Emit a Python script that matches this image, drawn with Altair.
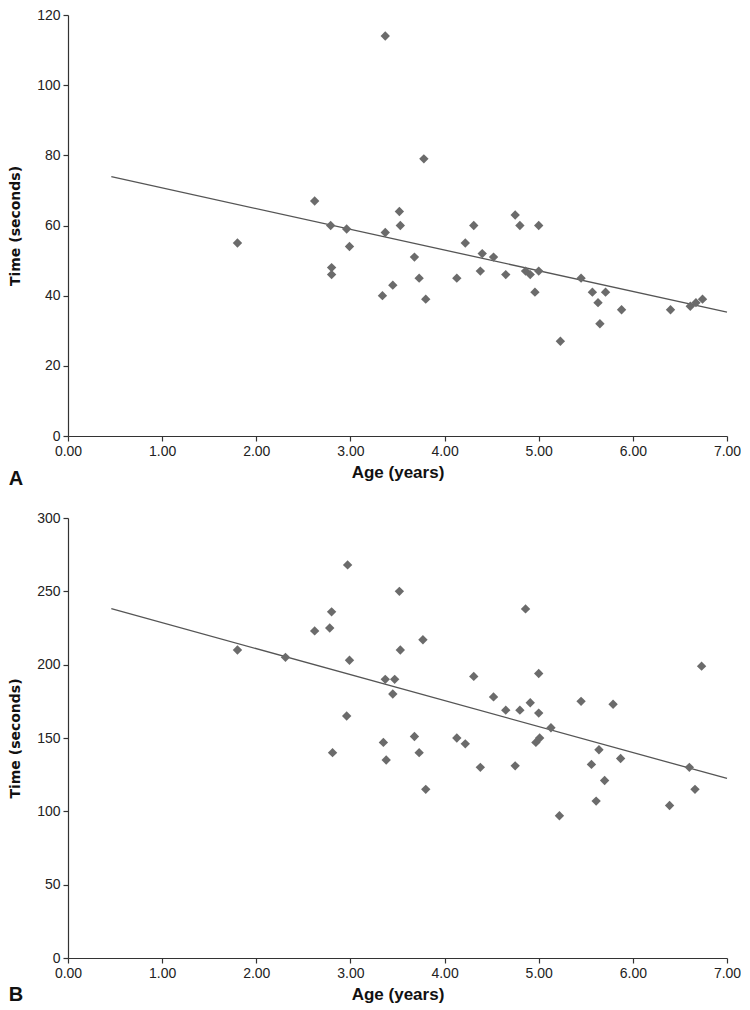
import altair as alt
import pandas as pd

# Panel A data
a_age = [1.80, 2.62, 2.79, 2.80, 2.80, 2.96, 2.99, 3.37, 3.37, 3.34, 3.45, 3.52, 3.53, 3.68,
         3.73, 3.78, 3.80, 4.13, 4.22, 4.31, 4.38, 4.40, 4.52, 4.65, 4.75, 4.80, 4.86, 4.91,
         4.96, 5.00, 5.00, 5.23, 5.45, 5.57, 5.63, 5.65, 5.71, 5.88, 6.40, 6.61, 6.67, 6.74]
a_time = [55, 67, 60, 48, 46, 59, 54, 114, 58, 40, 43, 64, 60, 51,
          45, 79, 39, 45, 55, 60, 47, 52, 51, 46, 63, 60, 47, 46,
          41, 60, 47, 27, 45, 41, 38, 32, 41, 36, 36, 37, 38, 39]
a_trend_age = [0.46, 7.0]
a_trend_time = [73.9, 35.3]

# Panel B data
b_age = [1.80, 2.31, 2.62, 2.78, 2.80, 2.81, 2.96, 2.97, 2.99, 3.35, 3.37, 3.38, 3.45, 3.47,
         3.52, 3.53, 3.68, 3.73, 3.77, 3.80, 4.13, 4.22, 4.31, 4.38, 4.52, 4.65, 4.75, 4.80,
         4.86, 4.91, 4.97, 5.00, 5.00, 5.01, 5.13, 5.22, 5.45, 5.56, 5.61, 5.64, 5.70, 5.79,
         5.87, 6.39, 6.60, 6.66, 6.73]
b_time = [210, 205, 223, 225, 236, 140, 165, 268, 203, 147, 190, 135, 180, 190,
          250, 210, 151, 140, 217, 115, 150, 146, 192, 130, 178, 169, 131, 169,
          238, 174, 147, 167, 194, 150, 157, 97, 175, 132, 107, 142, 121, 173,
          136, 104, 130, 115, 199]
b_trend_age = [0.46, 7.0]
b_trend_time = [238.2, 122.4]

x_ticks = [0, 1, 2, 3, 4, 5, 6, 7]
a_y_ticks = [0, 20, 40, 60, 80, 100, 120]
b_y_ticks = [0, 50, 100, 150, 200, 250, 300]

LABEL_FONT = "Liberation Sans Narrow, Liberation Sans, sans-serif"


def panel(age, time, tage, ttime, yticks, ymax, letter, h, letter_dy):
    pts = pd.DataFrame({"age": age, "time": time})
    trend = pd.DataFrame({"age": tage, "time": ttime})
    x = alt.X("age:Q", scale=alt.Scale(domain=[0, 7], nice=False, zero=False),
              axis=alt.Axis(values=x_ticks, format=".2f", title="Age (years)",
                            labelFlush=False))
    y = alt.Y("time:Q", scale=alt.Scale(domain=[0, ymax], nice=False),
              axis=alt.Axis(values=yticks, title="Time (seconds)"))
    p = alt.Chart(pts).mark_point(shape="diamond", filled=True, size=88,
                                  color="#6b6b6b", opacity=1).encode(x=x, y=y)
    l = alt.Chart(trend).mark_line(color="#555555", strokeWidth=1.3).encode(
        x="age:Q", y="time:Q")
    return alt.layer(l, p).properties(
        width=659, height=h,
        title=alt.TitleParams(letter, orient="bottom", anchor="start", frame="bounds",
                              fontSize=20, font="Liberation Sans", fontWeight="bold",
                              color="#111111", offset=0, dy=letter_dy),
    )


pa = panel(a_age, a_time, a_trend_age, a_trend_time, a_y_ticks, 120, "A", 421, -11)
pb = panel(b_age, b_time, b_trend_age, b_trend_time, b_y_ticks, 300, "B", 440, -17)

chart = alt.vconcat(pa, pb, spacing=22).configure_view(stroke=None).configure_axis(
    grid=False,
    domainColor="#333333",
    tickColor="#333333",
    domainWidth=1.2,
    tickWidth=1.2,
    tickSize=5,
    labelFont=LABEL_FONT,
    labelFontSize=14,
    labelColor="#222222",
    labelPadding=3,
    titleColor="#111111",
).configure_axisX(
    titleFont=LABEL_FONT,
    titleFontSize=17,
    titleFontWeight="bold",
    titlePadding=6,
).configure_axisY(
    titleFont="DejaVu Sans",
    titleFontSize=14,
    titleFontWeight="bold",
    titlePadding=14,
).properties(padding=0)

chart.save("out.html", embed_options={"renderer": "svg", "actions": False})
